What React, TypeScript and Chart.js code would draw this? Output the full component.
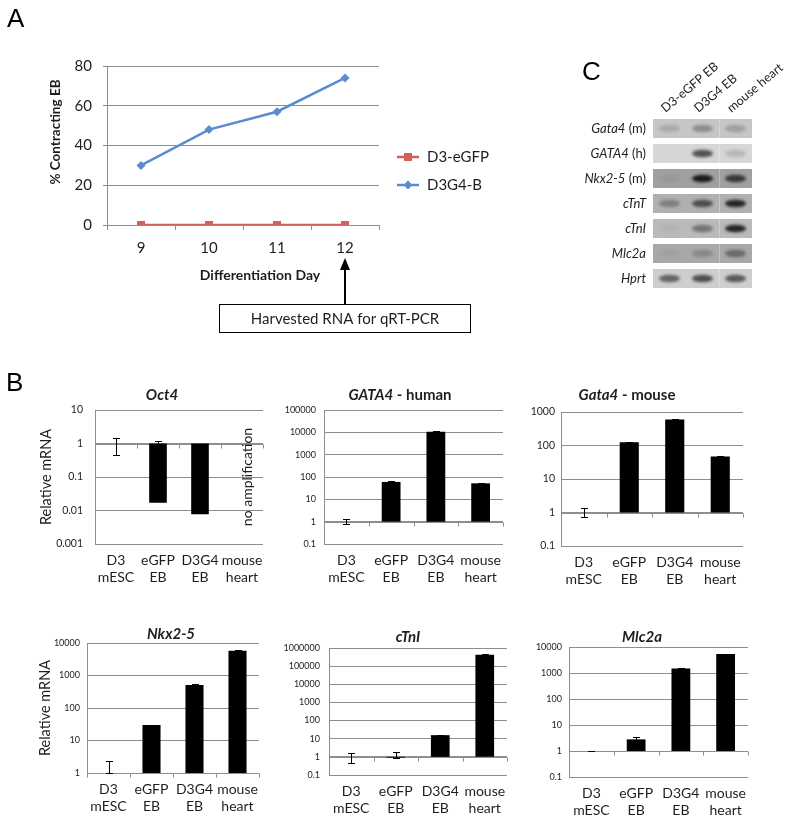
import React, { useEffect, useRef } from "react";
import { Chart, registerables } from "chart.js";

Chart.register(...registerables);

const FONT = "Lato, 'Open Sans', 'DejaVu Sans', sans-serif";
const LETTER_FONT = "'Liberation Sans', Arial, sans-serif";
const INK = "#1e1e1e";
const GRID = "#8e8e8e";
const RED = "#d4605b";
const BLUE = "#5a8dd0";

// ---------------- Panel A data ----------------
const aDays = ["9", "10", "11", "12"];
const aEGFP = [0, 0, 0, 0];
const aD3G4B = [30, 48, 57, 74];
const aTicks = [0, 20, 40, 60, 80];
const aSeriesNames = ["D3-eGFP", "D3G4-B"];
const aYTitle = "% Contracting EB";
const aXTitle = "Differentiation Day";
const aNote = "Harvested RNA for qRT-PCR";

// ---------------- Panel C data ----------------
const gelGenes = ["Gata4", "GATA4", "Nkx2-5", "cTnT", "cTnI", "Mlc2a", "Hprt"];
const gelSpecies = [" (m)", " (h)", " (m)", "", "", "", ""];
const gelLanes = ["D3-eGFP EB", "D3G4 EB", "mouse heart"];
const gelBackground = [198, 214, 160, 176, 186, 168, 206];
const bandEGFP = [0.15, 0.0, 0.05, 0.3, 0.03, 0.05, 0.55];
const bandD3G4 = [0.3, 0.65, 0.9, 0.6, 0.4, 0.2, 0.65];
const bandHeart = [0.2, 0.15, 0.7, 0.85, 0.85, 0.4, 0.6];

// ---------------- Panel B data ----------------
const samples = [["D3", "mESC"], ["eGFP", "EB"], ["D3G4", "EB"], ["mouse", "heart"]];
const yTitleB = "Relative mRNA";

const oct4Val = [1, 0.017, 0.0077, null];
const oct4Lo = [0.45, 1, null, null];
const oct4Hi = [1.5, 1.15, null, null];
const oct4Ticks = [0.001, 0.01, 0.1, 1, 10];
const oct4Notes = [null, null, null, "no amplification"];

const gataHVal = [1, 60, 10700, 52];
const gataHLo = [0.75, 58, 10300, 50];
const gataHHi = [1.35, 63, 11200, 54];
const gataHTicks = [0.1, 1, 10, 100, 1000, 10000, 100000];

const gataMVal = [1, 124, 600, 47];
const gataMLo = [0.72, 120, 580, 46];
const gataMHi = [1.35, 128, 620, 48];
const gataMTicks = [0.1, 1, 10, 100, 1000];

const nkxVal = [1, 30, 510, 5800];
const nkxLo = [1, 29, 490, 5600];
const nkxHi = [2.4, 31, 540, 6000];
const nkxTicks = [1, 10, 100, 1000, 10000];

const ctniVal = [1, 0.9, 15.7, 420000];
const ctniLo = [0.45, 0.85, 15, 400000];
const ctniHi = [1.7, 1.9, 16.5, 450000];
const ctniTicks = [0.1, 1, 10, 100, 1000, 10000, 100000, 1000000];

const mlcVal = [1, 2.8, 1480, 5400];
const mlcLo = [0.97, 2.3, 1420, 5200];
const mlcHi = [1.03, 3.4, 1550, 5600];
const mlcTicks = [0.1, 1, 10, 100, 1000, 10000];

// ---------------- layout helpers ----------------
type Box = { left: number; top: number; width: number; height: number };
type Plot = { l: number; t: number; r: number; b: number };

function margins(cell: Box, plot: Plot) {
  return {
    l: plot.l - cell.left,
    t: plot.t - cell.top,
    r: cell.left + cell.width - plot.r,
    b: cell.top + cell.height - plot.b,
  };
}

function ChartCanvas({ cell, build }: { cell: Box; build: () => any }) {
  const ref = useRef<HTMLCanvasElement | null>(null);
  useEffect(() => {
    if (!ref.current) return;
    const chart = new Chart(ref.current, build());
    return () => chart.destroy();
  }, []);
  return (
    <canvas
      ref={ref}
      width={cell.width}
      height={cell.height}
      style={{ position: "absolute", left: cell.left, top: cell.top, width: cell.width, height: cell.height }}
    />
  );
}

// ---------------- Panel A ----------------
const aCell: Box = { left: 0, top: 30, width: 560, height: 320 };
const aPlot: Plot = { l: 107, t: 66, r: 379, b: 225 };

function buildA() {
  const m = margins(aCell, aPlot);
  const ox = aCell.left, oy = aCell.top;
  const deco = {
    id: "decoA",
    afterDraw(chart: any) {
      const { ctx, scales: { x } } = chart;
      ctx.save();
      ctx.fillStyle = INK;
      ctx.save();
      ctx.translate(56 - ox, 132 - oy);
      ctx.rotate(-Math.PI / 2);
      ctx.font = `bold 13.5px ${FONT}`;
      ctx.textAlign = "center";
      ctx.textBaseline = "middle";
      ctx.fillText(aYTitle, 0, 0);
      ctx.restore();
      ctx.font = `bold 14px ${FONT}`;
      ctx.textAlign = "center";
      ctx.textBaseline = "middle";
      ctx.fillText(aXTitle, 260 - ox, 275 - oy);
      const ly = [157, 185];
      chart.data.datasets.forEach((ds: any, i: number) => {
        const y = ly[i] - oy;
        ctx.strokeStyle = ds.borderColor;
        ctx.lineWidth = 2.5;
        ctx.beginPath();
        ctx.moveTo(397 - ox, y);
        ctx.lineTo(419 - ox, y);
        ctx.stroke();
        ctx.fillStyle = ds.backgroundColor;
        const cx = 408 - ox;
        if (ds.pointStyle === "rect") {
          ctx.fillRect(cx - 4, y - 4, 8, 8);
        } else {
          ctx.beginPath();
          ctx.moveTo(cx, y - 4.5);
          ctx.lineTo(cx + 4.5, y);
          ctx.lineTo(cx, y + 4.5);
          ctx.lineTo(cx - 4.5, y);
          ctx.closePath();
          ctx.fill();
        }
        ctx.fillStyle = INK;
        ctx.font = `15px ${FONT}`;
        ctx.textAlign = "left";
        ctx.textBaseline = "middle";
        ctx.fillText(ds.label, 427 - ox, y);
      });
      const axp = Math.round(x.getPixelForValue(3));
      const boxTop = 304 - oy;
      ctx.strokeStyle = "#000";
      ctx.fillStyle = "#000";
      ctx.lineWidth = 2;
      ctx.beginPath();
      ctx.moveTo(axp, boxTop);
      ctx.lineTo(axp, 266 - oy);
      ctx.stroke();
      ctx.beginPath();
      ctx.moveTo(axp, 258 - oy);
      ctx.lineTo(axp + 5, 270 - oy);
      ctx.lineTo(axp - 5, 270 - oy);
      ctx.closePath();
      ctx.fill();
      ctx.lineWidth = 1;
      ctx.strokeRect(axp - 125.5, boxTop + 0.5, 251, 28);
      ctx.fillStyle = INK;
      ctx.font = `15px ${FONT}`;
      ctx.textAlign = "center";
      ctx.textBaseline = "middle";
      ctx.fillText(aNote, axp, boxTop + 15);
      ctx.restore();
    },
  };
  return {
    type: "line",
    data: {
      labels: aDays,
      datasets: [
        { label: aSeriesNames[0], data: aEGFP, borderColor: RED, backgroundColor: RED, pointStyle: "rect", pointRadius: 5.7, pointBorderWidth: 0, borderWidth: 2.5, fill: false },
        { label: aSeriesNames[1], data: aD3G4B, borderColor: BLUE, backgroundColor: BLUE, pointStyle: "rectRot", pointRadius: 4.5, pointBorderWidth: 0, borderWidth: 2.5, fill: false },
      ],
    },
    options: {
      animation: false,
      responsive: false,
      devicePixelRatio: 1,
      layout: { padding: { left: 0, top: m.t, right: m.r, bottom: 0 } },
      plugins: { legend: { display: false }, tooltip: { enabled: false } },
      scales: {
        x: {
          type: "category",
          offset: true,
          grid: { display: true, drawOnChartArea: false, drawTicks: true, tickLength: 5, offset: true, color: GRID },
          border: { display: true, color: GRID },
          ticks: { font: { family: FONT, size: 15 }, color: INK, padding: 9, maxRotation: 0 },
          afterFit: (s: any) => { s.height = m.b; },
        },
        y: {
          type: "linear",
          min: 0,
          max: 80,
          afterBuildTicks: (ax: any) => { ax.ticks = aTicks.map((v) => ({ value: v })); },
          grid: { color: GRID, tickLength: 4 },
          border: { display: true, color: GRID },
          ticks: { font: { family: FONT, size: 15 }, color: INK, padding: 11 },
          afterFit: (s: any) => { s.width = m.l; },
        },
      },
    },
    plugins: [deco],
  };
}

// ---------------- Panel C ----------------
const cCell: Box = { left: 570, top: 40, width: 230, height: 270 };
const cPlot: Plot = { l: 653, t: 116, r: 752, b: 291 };

function buildC() {
  const m = margins(cCell, cPlot);
  const lanes = [bandEGFP, bandD3G4, bandHeart];
  const deco = {
    id: "gel",
    afterDatasetsDraw(chart: any) {
      const { ctx, scales: { x, y } } = chart;
      const x0 = x.getPixelForValue(0), x3 = x.getPixelForValue(gelLanes.length);
      gelGenes.forEach((_, i) => {
        const yc = y.getPixelForValue(i);
        ctx.save();
        ctx.beginPath();
        ctx.rect(x0, yc - 9.5, x3 - x0, 19);
        ctx.clip();
        const xs = x.getPixelForValue(2);
        ctx.strokeStyle = "rgba(255,255,255,0.28)";
        ctx.lineWidth = 1;
        ctx.beginPath();
        ctx.moveTo(Math.round(xs) + 0.5, yc - 9.5);
        ctx.lineTo(Math.round(xs) + 0.5, yc + 9.5);
        ctx.stroke();
        lanes.forEach((arr, j) => {
          const a = arr[i];
          if (!a) return;
          const xc = x.getPixelForValue(j + 0.5);
          ctx.filter = "blur(1.8px)";
          ctx.fillStyle = `rgba(12,12,12,${a})`;
          ctx.beginPath();
          ctx.ellipse(xc, yc, 10.5, 3.8, 0, 0, Math.PI * 2);
          ctx.fill();
          ctx.filter = "none";
        });
        ctx.restore();
      });
    },
    afterDraw(chart: any) {
      const { ctx, chartArea, scales: { x, y } } = chart;
      ctx.save();
      ctx.fillStyle = INK;
      ctx.textBaseline = "middle";
      ctx.textAlign = "right";
      const xr = chartArea.left - 7;
      gelGenes.forEach((g, i) => {
        const yc = y.getPixelForValue(i);
        ctx.font = `13px ${FONT}`;
        const sw = ctx.measureText(gelSpecies[i]).width;
        if (gelSpecies[i]) ctx.fillText(gelSpecies[i], xr, yc);
        ctx.font = `italic 13px ${FONT}`;
        ctx.fillText(g, xr - sw, yc);
      });
      ctx.font = `12.5px ${FONT}`;
      ctx.textAlign = "left";
      ctx.textBaseline = "alphabetic";
      gelLanes.forEach((lane, j) => {
        ctx.save();
        ctx.translate(x.getPixelForValue(j + 0.5) - 4, chartArea.top - 3);
        ctx.rotate(-40 * Math.PI / 180);
        ctx.fillText(lane, 0, 0);
        ctx.restore();
      });
      ctx.restore();
    },
  };
  return {
    type: "bar",
    data: {
      labels: gelGenes,
      datasets: [
        {
          data: gelGenes.map(() => [0, gelLanes.length]),
          backgroundColor: gelBackground.map((g) => `rgb(${g},${g},${g})`),
          borderWidth: 0,
          barPercentage: 0.76,
          categoryPercentage: 1,
        },
      ],
    },
    options: {
      indexAxis: "y",
      animation: false,
      responsive: false,
      devicePixelRatio: 1,
      layout: { padding: { left: m.l, top: m.t, right: m.r, bottom: m.b } },
      plugins: { legend: { display: false }, tooltip: { enabled: false } },
      scales: {
        x: { type: "linear", min: 0, max: gelLanes.length, display: false },
        y: { type: "category", offset: true, display: false },
      },
    },
    plugins: [deco],
  };
}

// ---------------- Panel B ----------------
type BSpec = {
  title: [string, boolean][];
  values: (number | null)[];
  lo: (number | null)[];
  hi: (number | null)[];
  ticks: number[];
  yTitle?: string;
  notes?: (string | null)[];
};

const bSpecs: BSpec[] = [
  { title: [["Oct4", true]], values: oct4Val, lo: oct4Lo, hi: oct4Hi, ticks: oct4Ticks, yTitle: yTitleB, notes: oct4Notes },
  { title: [["GATA4", true], [" - human", false]], values: gataHVal, lo: gataHLo, hi: gataHHi, ticks: gataHTicks },
  { title: [["Gata4", true], [" - mouse", false]], values: gataMVal, lo: gataMLo, hi: gataMHi, ticks: gataMTicks },
  { title: [["Nkx2-5", true]], values: nkxVal, lo: nkxLo, hi: nkxHi, ticks: nkxTicks, yTitle: yTitleB },
  { title: [["cTnI", true]], values: ctniVal, lo: ctniLo, hi: ctniHi, ticks: ctniTicks },
  { title: [["Mlc2a", true]], values: mlcVal, lo: mlcLo, hi: mlcHi, ticks: mlcTicks },
];

const bLayout = [
  { cell: { left: 0, top: 375, width: 268, height: 225 }, plot: { l: 95, t: 410, r: 263, b: 544 }, tickSize: 10.5, tickPad: 12, titleX: 162, titleY: 395, yTitleX: 46 },
  { cell: { left: 268, top: 375, width: 257, height: 225 }, plot: { l: 324, t: 410, r: 503, b: 544 }, tickSize: 9, tickPad: 8, titleX: 400, titleY: 395, yTitleX: 0 },
  { cell: { left: 525, top: 375, width: 275, height: 225 }, plot: { l: 561, t: 412, r: 743, b: 546 }, tickSize: 10.5, tickPad: 6, titleX: 627, titleY: 395, yTitleX: 0 },
  { cell: { left: 0, top: 600, width: 268, height: 219 }, plot: { l: 87, t: 643, r: 259, b: 773 }, tickSize: 9, tickPad: 7, titleX: 171, titleY: 634, yTitleX: 45 },
  { cell: { left: 268, top: 600, width: 257, height: 219 }, plot: { l: 329, t: 648, r: 507, b: 775 }, tickSize: 9, tickPad: 9, titleX: 408, titleY: 637, yTitleX: 0 },
  { cell: { left: 525, top: 600, width: 275, height: 219 }, plot: { l: 569, t: 647, r: 748, b: 777 }, tickSize: 9, tickPad: 7, titleX: 642, titleY: 637, yTitleX: 0 },
];

function buildB(spec: BSpec, lay: typeof bLayout[number]) {
  const m = margins(lay.cell, lay.plot);
  const ox = lay.cell.left, oy = lay.cell.top;
  const deco = {
    id: "decoB",
    beforeDatasetsDraw(chart: any) {
      const { ctx, chartArea: ca, scales: { x, y } } = chart;
      const y1 = Math.round(y.getPixelForValue(1)) + 0.5;
      ctx.save();
      ctx.strokeStyle = GRID;
      ctx.lineWidth = 1;
      ctx.beginPath();
      ctx.moveTo(ca.left, y1);
      ctx.lineTo(ca.right, y1);
      for (let i = 0; i <= spec.values.length; i++) {
        const bx = Math.round(x.getPixelForValue(i - 0.5)) + 0.5;
        ctx.moveTo(bx, y1);
        ctx.lineTo(bx, y1 + 4);
      }
      ctx.stroke();
      ctx.restore();
    },
    afterDatasetsDraw(chart: any) {
      const { ctx, scales: { x, y } } = chart;
      ctx.save();
      ctx.strokeStyle = "#000";
      ctx.lineWidth = 1;
      spec.lo.forEach((l, i) => {
        const h = spec.hi[i];
        if (l == null || h == null) return;
        const px = Math.round(x.getPixelForValue(i)) + 0.5;
        const ya = Math.round(y.getPixelForValue(l)) + 0.5;
        const yb = Math.round(y.getPixelForValue(h)) + 0.5;
        ctx.beginPath();
        ctx.moveTo(px, ya);
        ctx.lineTo(px, yb);
        ctx.moveTo(px - 3.5, ya);
        ctx.lineTo(px + 3.5, ya);
        ctx.moveTo(px - 3.5, yb);
        ctx.lineTo(px + 3.5, yb);
        ctx.stroke();
      });
      ctx.restore();
    },
    afterDraw(chart: any) {
      const { ctx, chartArea: ca, scales: { x } } = chart;
      ctx.save();
      ctx.fillStyle = INK;
      ctx.textBaseline = "middle";
      let total = 0;
      spec.title.forEach(([t, it]) => {
        ctx.font = `${it ? "italic " : ""}bold 15px ${FONT}`;
        total += ctx.measureText(t).width;
      });
      let tx = lay.titleX - ox - total / 2;
      ctx.textAlign = "left";
      spec.title.forEach(([t, it]) => {
        ctx.font = `${it ? "italic " : ""}bold 15px ${FONT}`;
        ctx.fillText(t, tx, lay.titleY - oy);
        tx += ctx.measureText(t).width;
      });
      if (spec.yTitle) {
        ctx.save();
        ctx.translate(lay.yTitleX - ox, (ca.top + ca.bottom) / 2);
        ctx.rotate(-Math.PI / 2);
        ctx.font = `14.5px ${FONT}`;
        ctx.textAlign = "center";
        ctx.fillText(spec.yTitle, 0, 0);
        ctx.restore();
      }
      (spec.notes || []).forEach((n, i) => {
        if (!n) return;
        ctx.save();
        ctx.translate(x.getPixelForValue(i) + 5, (ca.top + ca.bottom) / 2);
        ctx.rotate(-Math.PI / 2);
        ctx.font = `14px ${FONT}`;
        ctx.textAlign = "center";
        ctx.fillText(n, 0, 0);
        ctx.restore();
      });
      ctx.restore();
    },
  };
  return {
    type: "bar",
    data: {
      labels: samples,
      datasets: [
        {
          data: spec.values.map((v) => (v == null ? null : [1, v])),
          backgroundColor: "#000",
          borderWidth: 0,
          barPercentage: 0.42,
          categoryPercentage: 1,
        },
      ],
    },
    options: {
      animation: false,
      responsive: false,
      devicePixelRatio: 1,
      layout: { padding: { left: 0, top: m.t, right: m.r, bottom: 0 } },
      plugins: { legend: { display: false }, tooltip: { enabled: false } },
      scales: {
        x: {
          type: "category",
          offset: true,
          grid: { display: false },
          border: { display: false },
          ticks: { font: { family: FONT, size: 14 }, color: INK, padding: 0, maxRotation: 0, autoSkip: false },
          afterFit: (s: any) => { s.height = m.b; },
        },
        y: {
          type: "logarithmic",
          min: spec.ticks[0],
          max: spec.ticks[spec.ticks.length - 1],
          afterBuildTicks: (ax: any) => { ax.ticks = spec.ticks.map((v) => ({ value: v })); },
          grid: { color: GRID, drawTicks: false },
          border: { display: true, color: GRID },
          ticks: { font: { family: FONT, size: lay.tickSize }, color: INK, padding: lay.tickPad, callback: (v: any) => String(v) },
          afterFit: (s: any) => { s.width = m.l; },
        },
      },
    },
    plugins: [deco],
  };
}

const letterStyle = (left: number, top: number): React.CSSProperties => ({
  position: "absolute",
  left,
  top,
  fontFamily: LETTER_FONT,
  fontSize: 26,
  lineHeight: "26px",
  color: "#000",
});

export default function App() {
  return (
    <div style={{ position: "absolute", left: 0, top: 0, width: 800, height: 819, background: "#fff", overflow: "hidden" }}>
      <ChartCanvas cell={aCell} build={buildA} />
      <ChartCanvas cell={cCell} build={buildC} />
      {bSpecs.map((s, i) => (
        <ChartCanvas key={i} cell={bLayout[i].cell} build={() => buildB(s, bLayout[i])} />
      ))}
      <div style={letterStyle(7, 5)}>A</div>
      <div style={letterStyle(6, 369)}>B</div>
      <div style={letterStyle(582, 58)}>C</div>
    </div>
  );
}
